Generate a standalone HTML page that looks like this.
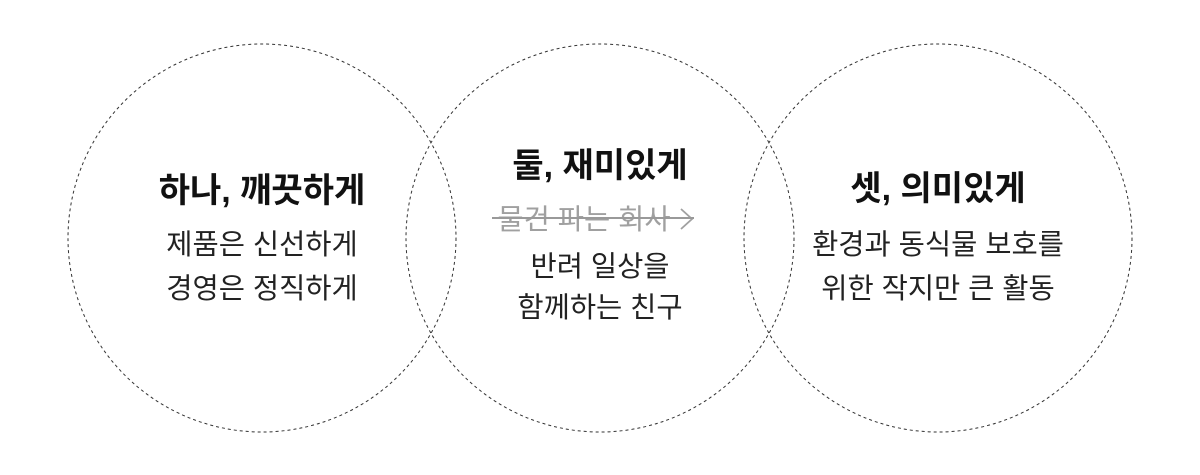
<!DOCTYPE html>
<html><head><meta charset="utf-8"><style>
html,body{margin:0;padding:0;background:#fff;width:1200px;height:475px;overflow:hidden}
svg text{font-family:"Liberation Sans","Noto Sans CJK KR",sans-serif;text-anchor:middle}
.t{font-size:34px;font-weight:bold;fill:#111}
.b{font-size:28.5px;fill:#222}
</style></head><body>
<svg width="1200" height="475" xmlns="http://www.w3.org/2000/svg">
<g fill="none" stroke="#333" stroke-width="1" stroke-dasharray="3,3">
<circle cx="262" cy="238" r="194"/>
<circle cx="600" cy="238" r="194"/>
<circle cx="938" cy="238" r="194"/>
</g>
<text class="t" x="262" y="202">하나, 깨끗하게</text>
<text class="b" x="262" y="254">제품은 신선하게</text>
<text class="b" x="262" y="298">경영은 정직하게</text>

<text class="t" x="600" y="177">둘, 재미있게</text>
<text class="b" x="584" y="229" style="fill:#a0a0a0">물건 파는 회사</text>
<path d="M681 209 L692 219 L681 229" fill="none" stroke="#a0a0a0" stroke-width="1.8"/>
<line x1="492" y1="218" x2="694" y2="218" stroke="#999" stroke-width="2"/>
<text class="b" x="600" y="276">반려 일상을</text>
<text class="b" x="600" y="317">함께하는 친구</text>

<text class="t" x="938" y="200">셋, 의미있게</text>
<text class="b" x="938" y="254">환경과 동식물 보호를</text>
<text class="b" x="938" y="298">위한 작지만 큰 활동</text>
</svg>
</body></html>
